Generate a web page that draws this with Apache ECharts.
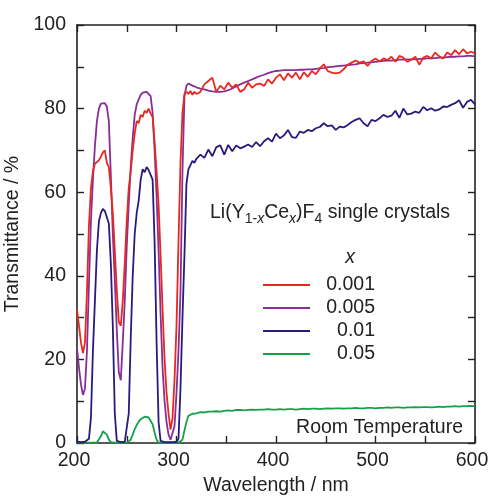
<!DOCTYPE html>
<html>
<head>
<meta charset="utf-8">
<script src="https://cdn.jsdelivr.net/npm/echarts@6/dist/echarts.min.js"></script>
<style>html,body{margin:0;padding:0;background:#fff}#c{width:495px;height:497px}</style>
</head>
<body>
<div id="c"></div>
<script>
const wavelength = [
  200,202,204,206,208,210,212,214,216,218,
  220,222,224,226,228,230,232,234,236,238,
  240,242,244,246,248,250,252,254,256,258,
  260,262,264,266,268,270,272,274,276,278,
  280,282,284,286,288,290,292,294,296,298,
  300,302,304,306,308,310,312,314,316,318,
  320,
  324,328,332,336,340,344,348,352,356,360,
  364,368,372,376,380,384,388,392,396,400,
  404,408,412,416,420,424,428,432,436,440,
  444,448,452,456,460,464,468,472,476,480,
  484,488,492,496,500,504,508,512,516,520,
  524,528,532,536,540,544,548,552,556,560,
  564,568,572,576,580,584,588,592,596,600
];
const x0001 = [
  32,28,24,21.5,24,36,52,61,65,66.8,
  67,67.6,68.5,69.5,70,67,66,61,55,46,
  36.6,29,28,34,43,53,61,65,70,74,
  77,76.5,78.5,78,79.5,79,80,78.8,78,72,
  65,57,45,32,20,12,7,3.2,6,15,
  28,48,67,79,83.5,84,83.5,84.2,83.3,84,
  83.5,
  84.0,85.8,86.6,87.4,84.0,85.5,84.6,86.2,85.0,85.8,
  84.0,84.6,86.2,85.0,85.8,86.0,85.4,87.0,86.0,87.4,
  88.2,86.8,88.4,87.4,88.6,87.0,88.7,87.6,89.0,88.2,
  89.6,90.6,89.0,88.6,88.4,88.6,89.4,90.5,91.0,91.5,
  91.0,91.3,90.2,91.4,92.0,91.3,92.0,91.6,92.4,91.2,
  92.6,92.2,91.2,91.7,92.4,90.5,92.2,92.6,92.0,93.4,
  92.5,92.0,93.4,92.8,94.0,93.0,94.2,93.2,93.6,93.2
];
const x0005 = [
  22.7,18,14,11.5,13,22,38,53,63,71,
  77,80,81.2,81.5,81.3,80.5,77,64,50,39,
  27,17,15,24,34,47,57,66,73,78.5,
  81,82.2,83.3,83.8,84,84,83.8,83,79,70,
  59,46,31,18,10,5,2,0.8,1,4,
  12,22,36,65,83,85.5,86,85.8,85.5,85.3,
  85.1,
  84.8,84.6,84.3,84.1,84.0,84.0,84.1,84.4,84.8,85.3,
  85.8,86.2,86.6,87.0,87.4,87.8,88.1,88.5,88.8,89.0,
  89.1,89.2,89.2,89.2,89.2,89.3,89.3,89.4,89.4,89.5,
  89.6,89.7,89.9,90.0,90.1,90.2,90.3,90.4,90.5,90.6,
  90.8,90.9,91.0,91.1,91.2,91.3,91.4,91.5,91.5,91.6,
  91.7,91.7,91.8,91.8,91.8,91.9,91.9,92.0,92.0,92.1,
  92.2,92.2,92.3,92.4,92.4,92.5,92.5,92.6,92.6,92.5
];
const x001 = [
  0.3,0.2,0.2,0.2,0.3,0.5,1,6,22,34,
  46,53,55,56,55.5,54,52.5,43,28,7,
  0.5,0.2,0.2,0.2,0.3,0.5,7,25,40,50,
  55,58,63,65.5,64.8,66,65.3,65.5,63,48,
  24,5,0.5,0.2,0.2,0.2,0.2,0.2,0.2,0.3,
  0.3,1,13,30,45,62,65.5,66.5,67.5,67,
  68,
  69.0,68.2,70.2,68.6,70.8,71.2,69.0,71.3,69.8,71.2,
  70.5,70.9,71.4,70.8,72.0,71.0,72.2,72.9,72.1,74.0,
  72.9,73.6,74.9,73.2,73.0,74.5,74.2,74.9,74.6,75.3,
  75.6,76.5,75.8,76.0,74.9,75.7,75.5,76.1,76.8,77.3,
  77.7,76.5,75.8,77.3,77.0,77.7,78.5,78.0,78.3,79.5,
  77.8,80.0,78.6,78.8,79.3,79.0,80.4,79.6,80.1,79.5,
  79.8,80.5,80.4,80.9,81.3,82.0,80.2,81.6,82.1,81.0
];
const x005 = [
  0.1,0.1,0.1,0.1,0.1,0.1,0.1,0.1,0.1,0.1,
  0.1,0.5,1.6,2.8,2.9,2.0,0.8,0.2,0.1,0.1,
  0.1,0.1,0.1,0.1,0.1,0.1,0.2,0.8,2,3.3,
  4.3,5.1,5.7,6.1,6.3,6.3,6.1,5.8,4.5,2.5,
  0.8,0.1,0.1,0.1,0.1,0.1,0.1,0.1,0.1,0.1,
  0.1,0.1,0.1,0.8,3,5,6.5,6.9,7.0,7.1,
  7.1,
  7.4,7.3,7.5,7.5,7.6,7.5,7.7,7.8,7.7,7.9,
  7.9,7.8,7.9,8.0,7.9,8.0,8.0,8.1,8.0,8.0,
  8.1,8.0,8.1,8.1,8.0,8.1,8.2,8.1,8.2,8.2,
  8.1,8.2,8.3,8.2,8.3,8.3,8.2,8.3,8.3,8.4,
  8.3,8.3,8.4,8.4,8.3,8.4,8.4,8.5,8.4,8.5,
  8.5,8.4,8.5,8.5,8.6,8.5,8.6,8.6,8.5,8.6,
  8.7,8.6,8.7,8.7,8.8,8.7,8.8,8.8,8.9,8.8
];
const seriesNames = ['0.001','0.005','0.01','0.05'];
const seriesColors = ['#e6291f','#8b2d98','#2a1a7f','#17a04a'];
const xTickLabels = [200,300,400,500,600];
const yTickLabels = [0,20,40,60,80,100];

const FONT = '"Liberation Sans", Arial, sans-serif';
const FS = 19.5;
const INK = '#222';

function pairs(vals){ return wavelength.map((w,i)=>[w, vals[i]]); }
const valueSets = {'0.001': x0001, '0.005': x0005, '0.01': x001, '0.05': x005};
const drawOrder = ['0.05','0.01','0.005','0.001'];

const axisCommon = {
  axisLine: {show: true, onZero: false, lineStyle: {color: INK, width: 1.6}},
  axisTick: {show: true, inside: true, length: 7, lineStyle: {color: INK, width: 1.4}},
  splitLine: {show: false}
};

const chart = echarts.init(document.getElementById('c'), null, {renderer: 'canvas'});
chart.setOption({
  animation: false,
  backgroundColor: '#fff',
  textStyle: {fontFamily: FONT},
  grid: {left: 77, right: 20, top: 25, bottom: 54, containLabel: false, outerBoundsMode: 'none'},
  xAxis: [
    Object.assign({
      type: 'value', min: 200, max: 600, interval: 50,
      name: 'Wavelength / nm', nameLocation: 'middle', nameGap: 31,
      nameTextStyle: {fontFamily: FONT, fontSize: FS, color: INK},
      axisLabel: {margin: 8, fontFamily: FONT, fontSize: FS, color: INK, padding: [0, 6, 0, 0],
        formatter: v => xTickLabels.includes(v) ? String(v) : ''}
    }, axisCommon),
    Object.assign({
      type: 'value', min: 200, max: 600, interval: 50, position: 'top',
      axisLabel: {show: false}
    }, axisCommon)
  ],
  yAxis: [
    Object.assign({
      type: 'value', min: 0, max: 100, interval: 10,
      name: 'Transmittance / %', nameLocation: 'middle', nameGap: 50,
      nameTextStyle: {fontFamily: FONT, fontSize: FS, color: INK},
      axisLabel: {margin: 11, fontFamily: FONT, fontSize: FS, color: INK,
        formatter: v => yTickLabels.includes(v) ? String(v) : ''}
    }, axisCommon),
    Object.assign({
      type: 'value', min: 0, max: 100, interval: 10, position: 'right',
      axisLabel: {show: false}
    }, axisCommon)
  ],
  legend: {
    data: seriesNames,
    orient: 'vertical',
    left: 263, top: 275, padding: 0,
    itemWidth: 47, itemHeight: 14, itemGap: 3,
    icon: 'path://M0,0 L47,0 L47,2 L0,2 Z',
    formatter: n => '{r|' + n + '}',
    textStyle: {
      fontFamily: FONT, fontSize: FS, color: INK, lineHeight: 20,
      rich: {r: {width: 60, align: 'right', fontFamily: FONT, fontSize: FS, color: INK, lineHeight: 20}}
    }
  },
  graphic: [
    {
      type: 'text', left: 210, top: 200,
      style: {
        text: 'Li(Y{s|1-}{si|x}Ce{si|x})F{s|4} single crystals',
        fill: INK, font: FS + 'px ' + FONT,
        rich: {
          s: {fontSize: 14, fontFamily: FONT, fill: INK, lineHeight: 14, padding: [12,0,0,0]},
          si: {fontSize: 14, fontFamily: FONT, fontStyle: 'italic', fill: INK, lineHeight: 14, padding: [12,0,0,0]}
        }
      }
    },
    {
      type: 'text', x: 350, y: 258,
      style: {text: 'x', fill: INK, font: 'italic ' + FS + 'px ' + FONT, align: 'center', verticalAlign: 'middle'}
    },
    {
      type: 'text', x: 463, y: 428,
      style: {text: 'Room Temperature', fill: INK, font: FS + 'px ' + FONT, align: 'right', verticalAlign: 'middle'}
    }
  ],
  series: drawOrder.map(n => ({
    name: n,
    type: 'line',
    xAxisIndex: 0, yAxisIndex: 0,
    data: pairs(valueSets[n]),
    symbol: 'none', showSymbol: false,
    smooth: false,
    clip: true,
    color: seriesColors[seriesNames.indexOf(n)],
    lineStyle: {width: 1.8, color: seriesColors[seriesNames.indexOf(n)]},
    itemStyle: {color: seriesColors[seriesNames.indexOf(n)]}
  }))
});
</script>
</body>
</html>
